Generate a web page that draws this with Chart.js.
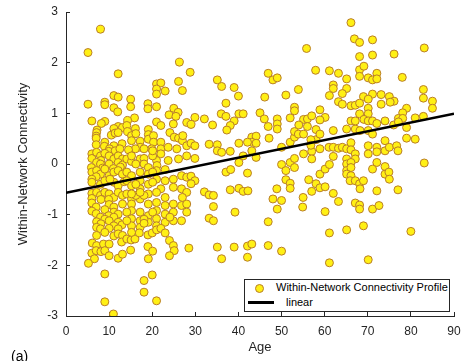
<!DOCTYPE html>
<html>
<head>
<meta charset="utf-8">
<script src="https://cdn.jsdelivr.net/npm/chart.js@4.4.1/dist/chart.umd.min.js"></script>
<style>
  html, body { margin: 0; padding: 0; background: #fff; }
  #wrap { position: relative; width: 465px; height: 361px; overflow: hidden; font-family: Arial, "Liberation Sans", sans-serif; }
  #chart { position: absolute; left: 0; top: 0; }
  #legend { position: absolute; left: 244px; top: 279px; width: 204px; height: 31px; border: 1px solid #262626; background: #fff; font-size: 11px; color: #000; }
  #legend .mark { position: absolute; left: 10px; top: 4px; width: 7px; height: 7px; border-radius: 50%; background: rgb(255, 240, 20); border: 1px solid rgb(185, 125, 40); }
  #legend .line { position: absolute; left: 3px; top: 21px; width: 26px; height: 3px; background: #000; }
  #legend .t1 { position: absolute; left: 31px; top: 1px; line-height: 13px; white-space: nowrap; }
  #legend .t2 { position: absolute; left: 41px; top: 16px; line-height: 13px; white-space: nowrap; }
  #tag { position: absolute; left: 11px; top: 348px; font-size: 14px; color: #000; }
</style>
</head>
<body>
<div id="wrap">
  <canvas id="chart" width="465" height="361"></canvas>
  <div id="legend">
    <div class="mark"></div><div class="t1">Within-Network Connectivity Profile</div>
    <div class="line"></div><div class="t2">linear</div>
  </div>
  <div id="tag">(a)</div>
</div>
<script>
// ages 4-14
const ageA = [
  8.0,5.1,12.1,5.1,9.0,9.0,11.1,12.1,11.1,12.0,
  6.0,9.0,8.2,7.2,7.1,7.0,12.1,11.1,10.5,11.4,
  13.1,12.1,7.0,7.0,9.0,8.9,11.1,10.1,9.9,11.4,
  13.0,12.5,6.0,6.0,7.1,8.0,8.1,9.0,10.0,11.1,
  12.1,13.1,7.1,8.0,10.0,12.1,13.1,5.9,8.5,11.0,
  12.6,6.0,7.1,8.0,9.0,10.0,11.1,12.1,13.1,7.0,
  6.0,6.0,8.0,9.0,11.1,12.1,10.2,13.5,6.0,7.1,
  8.0,9.0,10.0,11.1,12.1,13.1,6.0,8.1,9.9,6.0,
  10.0,11.1,13.1,7.0,9.0,6.0,11.1,12.1,7.0,9.9,
  8.0,11.1,7.1,9.0,10.0,12.1,8.1,11.1,13.0,7.1,
  8.0,10.0,12.1,9.0,11.1,12.1,13.1,7.1,6.1,7.1,
  8.7,10.0,12.9,6.0,7.0,8.1,9.0,10.0,12.1,13.1,
  6.6,5.2,9.0,9.0,11.0
];
const valA = [
  2.66,2.20,1.78,1.18,1.22,1.17,1.35,1.32,1.11,1.03,
  0.85,0.84,0.80,0.67,0.62,0.55,0.74,0.70,0.57,0.61,
  0.72,0.62,0.51,0.38,0.43,0.35,0.36,0.30,0.25,0.26,
  0.40,0.30,0.20,0.11,0.23,0.16,0.07,0.21,0.16,0.10,
  0.16,0.10,0.03,0.00,0.00,0.03,-0.02,-0.07,-0.08,-0.09,
  -0.06,-0.16,-0.13,-0.20,-0.10,-0.23,-0.16,-0.13,-0.20,-0.25,
  -0.30,-0.36,-0.40,-0.33,-0.36,-0.43,-0.30,-0.35,-0.58,-0.56,
  -0.62,-0.56,-0.59,-0.66,-0.56,-0.62,-0.68,-0.70,-0.70,-0.77,
  -0.80,-0.85,-0.79,-0.85,-0.90,-0.93,-0.95,-0.99,-0.98,-1.02,
  -1.05,-1.05,-1.14,-1.09,-1.12,-1.15,-1.18,-1.22,-1.20,-1.25,
  -1.28,-1.27,-1.28,-1.35,-1.42,-1.38,-1.41,-1.41,-1.56,-1.61,
  -1.58,-1.58,-1.54,-1.76,-1.71,-1.73,-1.71,-1.81,-1.86,-1.78,
  -1.87,-1.96,-2.17,-2.72,-2.96
];

// ages 14-30
const ageB = [
  21.0,22.0,21.0,21.0,23.0,26.1,27.0,26.3,28.8,15.0,
  15.0,19.0,19.0,21.0,25.0,26.0,23.9,25.5,15.9,14.3,
  21.0,22.0,28.0,14.1,14.3,15.2,16.1,16.2,19.1,19.1,
  19.1,20.3,24.1,25.1,26.1,27.0,24.9,20.3,17.2,15.2,
  17.2,19.9,22.0,22.0,22.0,23.7,25.7,28.0,28.0,26.1,
  23.7,21.0,16.1,18.1,14.5,14.1,15.2,15.2,17.2,18.1,
  20.1,20.1,16.2,18.1,19.1,21.1,21.0,23.0,14.1,15.2,
  17.2,19.1,20.1,21.0,23.0,24.9,26.8,28.0,17.2,14.1,
  15.2,17.2,16.2,19.1,20.1,22.0,24.9,26.8,28.0,21.0,
  14.1,15.2,17.2,19.1,23.0,16.2,18.1,17.2,15.2,21.0,
  23.0,21.0,24.9,26.8,28.0,28.0,24.9,23.0,15.2,19.1,
  15.2,17.2,15.2,17.2,19.1,19.1,14.1,20.1,21.0,21.0,
  23.0,24.9,26.8,15.2,17.2,24.1,18.1,18.1,14.1,14.1,
  15.1,16.0,17.0,19.0,20.0,21.0,22.0,23.0,15.2,15.0,
  19.0,20.1,19.1,24.0,24.9,25.1,24.0,28.5,18.1,18.1,
  20.0,21.0,27.0,29.0,29.9,29.0
];
const valB = [
  1.58,1.60,1.48,1.38,1.44,1.63,1.45,2.01,1.81,1.28,
  1.13,1.19,1.09,1.13,1.10,1.02,0.97,0.94,0.91,0.86,
  0.83,0.76,0.82,0.76,0.64,0.56,0.70,0.60,0.68,0.58,
  0.49,0.56,0.62,0.53,0.51,0.46,0.79,0.43,0.45,0.46,
  0.33,0.30,0.43,0.30,0.20,0.33,0.30,0.36,0.16,0.10,
  0.07,0.07,0.30,0.30,0.28,0.10,0.05,0.16,0.10,0.11,
  0.16,0.26,0.00,0.00,-0.07,-0.03,-0.13,-0.11,-0.16,-0.23,
  -0.16,-0.20,-0.16,-0.30,-0.33,-0.30,-0.23,-0.26,-0.33,-0.33,
  -0.43,-0.49,-0.40,-0.40,-0.36,-0.49,-0.46,-0.49,-0.56,-0.56,
  -0.59,-0.69,-0.69,-0.59,-0.66,-0.62,-0.62,-0.56,-0.59,-0.76,
  -0.82,-0.92,-0.79,-0.82,-0.79,-0.95,-0.95,-0.99,-0.79,-0.79,
  -0.92,-0.95,-1.08,-1.12,-1.02,-1.15,-0.95,-0.95,-1.08,-1.22,
  -1.15,-1.12,-1.12,-1.22,-1.25,-1.05,-1.09,-1.17,-1.12,-1.48,
  -1.50,-1.48,-1.36,-1.40,-1.36,-1.30,-1.27,-1.36,-1.35,-1.70,
  -1.63,-1.72,-1.87,-1.51,-1.61,-1.71,-1.81,-1.66,-2.30,-2.53,
  -2.19,-2.70,-0.66,-0.24,-0.33,-0.39
];

// ages 27-58
const ageC = [
  55.8,46.9,48.0,49.0,35.1,36.1,39.0,40.0,37.1,46.1,
  51.0,53.9,53.0,53.0,45.0,46.0,46.9,49.0,49.0,49.0,
  52.0,55.1,56.0,57.0,56.0,54.0,36.0,37.1,40.1,41.1,
  39.0,38.1,37.3,34.0,32.1,29.9,29.0,27.1,29.0,29.9,
  29.9,33.2,35.1,35.1,36.1,38.1,40.1,43.1,44.1,43.1,
  44.1,43.1,47.1,52.0,53.0,53.0,55.1,57.0,57.0,58.0,
  58.0,50.0,52.0,53.0,53.0,40.1,41.1,44.1,53.9,55.1,
  56.8,56.8,50.0,51.0,42.1,37.1,38.2,42.1,38.1,40.1,
  41.1,42.2,32.1,33.2,34.2,34.2,33.2,34.2,39.2,46.9,
  48.9,48.0,50.0,49.0,51.0,52.0,52.0,56.3,58.0,57.0,
  54.9,55.0,35.1,39.0,42.1,43.1,46.9,50.0,36.1,42.1
];
const valC = [
  2.28,1.79,1.66,1.70,1.66,1.53,1.51,1.34,1.20,1.32,
  1.36,1.47,1.12,1.05,1.01,0.89,0.74,0.89,0.79,0.69,
  0.91,0.88,0.89,0.95,0.74,0.77,0.99,0.94,0.99,0.99,
  0.85,0.76,0.67,0.77,0.89,0.92,0.78,0.56,0.41,0.36,
  0.11,0.39,0.38,0.26,0.23,0.25,0.41,0.53,0.55,0.43,
  0.41,0.26,0.51,0.43,0.53,0.64,0.20,0.25,0.10,0.68,
  0.48,-0.01,0.03,0.11,-0.07,0.03,0.16,0.13,0.59,0.59,
  0.48,0.37,0.33,-0.13,0.43,-0.16,-0.11,-0.18,-0.51,-0.48,
  -0.54,-0.53,-0.55,-0.61,-0.62,-0.84,-1.07,-1.12,-0.95,-1.14,
  -0.49,-0.69,-0.72,-0.89,-0.31,-0.38,-0.48,-0.31,-0.39,-0.54,
  -0.85,-0.66,-1.64,-1.64,-1.62,-1.58,-1.61,-1.72,-1.87,-1.84
];

// ages 57-86
const ageD = [
  66.1,66.9,68.1,71.1,68.1,71.1,76.1,83.1,57.9,61.1,
  63.2,68.1,69.1,68.1,70.1,71.1,72.1,72.1,65.1,78.0,
  62.0,62.0,65.1,64.1,61.1,63.2,64.1,69.0,71.1,73.1,
  75.0,76.1,73.1,66.1,67.1,68.1,70.1,70.1,68.1,70.1,
  75.2,82.9,82.9,85.0,85.0,79.0,78.1,77.1,78.1,81.0,
  82.9,58.9,60.1,58.9,58.9,62.0,65.1,67.1,68.2,70.1,
  71.1,66.1,67.1,69.1,70.1,71.1,72.1,74.0,76.0,77.1,
  79.0,81.0,79.0,61.0,62.0,63.2,64.1,65.1,66.1,66.1,
  70.1,72.1,72.1,74.0,74.0,75.0,76.7,77.0,70.1,67.1,
  62.0,65.1,67.1,58.9,65.1,66.1,65.1,66.1,65.1,
  66.1,65.9,67.1,68.1,68.2,69.0,71.1,72.1,74.0,74.0,
  74.9,75.0,72.1,77.0,58.9,60.1,61.1,58.9,60.1,62.0,
  63.2,67.1,68.1,68.1,71.1,72.6,60.1,61.1,61.1,65.1,
  69.0,70.1,80.0,83.1
];
const valD = [
  2.79,2.47,2.40,2.45,2.12,2.15,2.17,2.29,1.85,1.84,
  1.79,1.86,1.93,1.73,1.70,1.66,1.79,1.68,1.68,1.71,
  1.56,1.49,1.49,1.39,1.35,1.23,1.18,1.33,1.38,1.37,
  1.33,1.24,1.18,1.15,1.16,1.20,1.10,0.99,0.99,1.28,
  1.22,1.47,1.30,1.24,1.10,1.10,1.01,0.90,0.90,0.91,
  0.94,1.07,0.92,0.87,0.59,0.66,0.69,0.69,0.66,0.66,
  0.59,0.85,0.85,0.88,0.85,0.85,0.80,0.85,0.77,0.83,
  0.72,0.49,0.51,0.33,0.33,0.31,0.33,0.30,0.42,0.28,
  0.36,0.33,0.24,0.46,0.26,0.33,0.36,0.26,0.20,0.20,
  0.15,0.10,0.10,0.30,0.00,0.03,-0.13,-0.07,-0.20,
  -0.23,-0.33,-0.33,-0.39,-0.49,-0.33,-0.10,0.03,-0.05,-0.20,
  -0.16,-0.30,-0.53,-0.51,-0.20,-0.10,-0.01,-0.47,-0.45,-0.58,
  -0.74,-0.77,-0.81,-0.89,-0.89,-0.82,-0.94,-1.36,-1.95,-1.30,
  -1.22,-1.89,-1.33,0.02
];

// linear fit end points
const fitAges = [0, 90];
const fitValues = [-0.57, 0.99];

const xTicks = [0, 10, 20, 30, 40, 50, 60, 70, 80, 90];
const yTicks = [-3, -2, -1, 0, 1, 2, 3];

const ages = ageA.concat(ageB, ageC, ageD);
const connectivity = valA.concat(valB, valC, valD);
if (ages.length !== connectivity.length) console.error('length mismatch', ages.length, connectivity.length);

const axisColor = '#262626';
const tickFont = { family: 'Arial, "Liberation Sans", sans-serif', size: 12 };
const titleFont = { family: 'Arial, "Liberation Sans", sans-serif', size: 13 };

// keep the plot box where the layout padding puts it
function noLabelPadding(scale) {
  scale.paddingTop = 0;
  scale.paddingBottom = 0;
  scale.paddingLeft = 0;
  scale.paddingRight = 0;
}

new Chart(document.getElementById('chart').getContext('2d'), {
  type: 'scatter',
  data: {
    datasets: [
      {
        type: 'line',
        label: 'linear',
        data: fitAges.map((a, i) => ({ x: a, y: fitValues[i] })),
        borderColor: '#000',
        borderWidth: 2.5,
        pointRadius: 0,
        fill: false,
        order: 1
      },
      {
        label: 'Within-Network Connectivity Profile',
        data: ages.map((a, i) => ({ x: a, y: connectivity[i] })),
        pointRadius: 4,
        pointBorderWidth: 1,
        pointBackgroundColor: 'rgb(255, 240, 20)',
        pointBorderColor: 'rgb(185, 125, 40)',
        order: 2
      }
    ]
  },
  options: {
    responsive: false,
    animation: false,
    layout: { padding: { left: 0, top: 12, right: 11, bottom: 0 } },
    plugins: { legend: { display: false }, tooltip: { enabled: false } },
    scales: {
      x: {
        type: 'linear',
        min: 0,
        max: 90,
        afterBuildTicks: (scale) => { scale.ticks = xTicks.map(v => ({ value: v })); },
        afterFit: (scale) => { scale.height = 45; noLabelPadding(scale); },
        ticks: { color: axisColor, font: tickFont, padding: 12, maxRotation: 0 },
        grid: { display: true, drawOnChartArea: false, drawTicks: true, tickLength: -4, color: axisColor },
        border: { display: true, color: axisColor, width: 1 },
        title: { display: true, text: 'Age', color: axisColor, font: titleFont, padding: { top: 0, bottom: 6 } }
      },
      y: {
        type: 'linear',
        min: -3,
        max: 3,
        afterBuildTicks: (scale) => { scale.ticks = yTicks.map(v => ({ value: v })); },
        afterFit: (scale) => { scale.width = 66; noLabelPadding(scale); },
        ticks: { color: axisColor, font: tickFont, padding: 12 },
        grid: { display: true, drawOnChartArea: false, drawTicks: true, tickLength: -4, color: axisColor },
        border: { display: true, color: axisColor, width: 1 },
        title: { display: true, text: 'Within-Network Connectivity', color: axisColor, font: titleFont, padding: { top: 16, bottom: 0 } }
      }
    }
  }
});
</script>
</body>
</html>
